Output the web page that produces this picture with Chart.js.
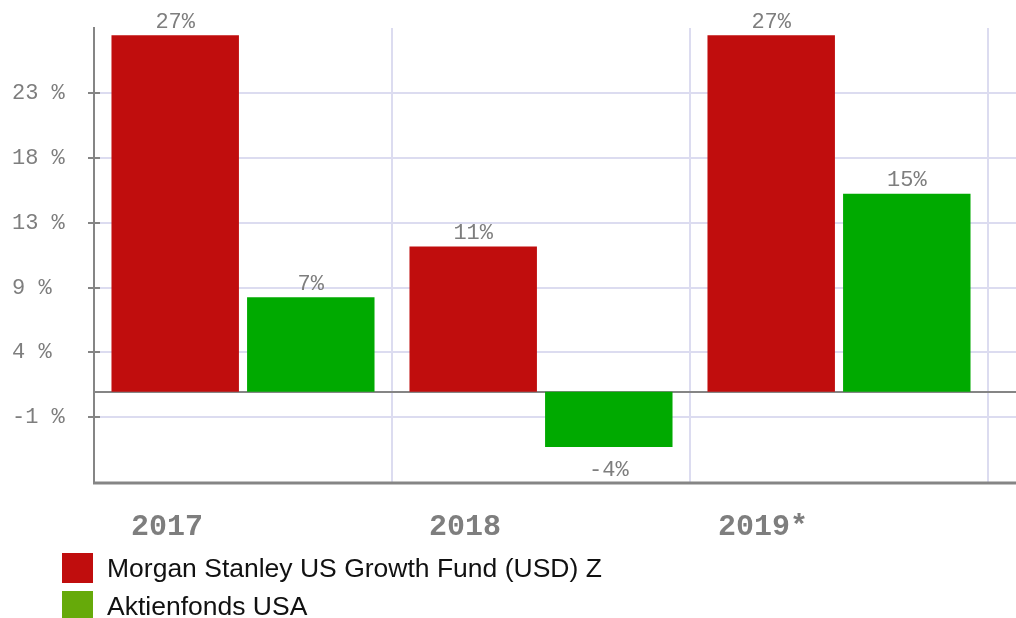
<!DOCTYPE html>
<html>
<head>
<meta charset="utf-8">
<script src="https://cdn.jsdelivr.net/npm/chart.js@4/dist/chart.umd.min.js"></script>
<style>
  html, body { margin: 0; padding: 0; background: #fff; overflow: hidden; }
  #wrap { position: relative; width: 1016px; height: 618px; }
  #legend { position: absolute; left: 62px; top: 553px; font-family: "Liberation Sans", Arial, sans-serif; font-size: 26.5px; color: #111; }
  .li { position: relative; height: 38px; }
  .sw { position: absolute; left: 0; top: 0; width: 31px; height: 30px; }
  .lt { position: absolute; left: 45px; top: 15px; transform: translateY(-50%); white-space: nowrap; line-height: 1; }
</style>
</head>
<body>
<div id="wrap">
  <canvas id="c" width="1016" height="618"></canvas>
  <div id="legend"></div>
</div>
<script>
const categories = ["2017", "2018", "2019*"];
const seriesNames = ["Morgan Stanley US Growth Fund (USD) Z", "Aktienfonds USA"];
const fundValues = [27.0, 11.0, 27.0];
const categoryAvgValues = [7.15, -4.2, 15.0];
const yTickValues = [-1.9, 3.0, 7.85, 12.8, 17.7, 22.6];
const yTickLabels = ["-1 %", "4 %", "9 %", "13 %", "18 %", "23 %"];
const yMin = -6.92, yMax = 27.55;

const barColors = ["#c00d0d", "#00aa00"];
const legendColors = ["#c00d0d", "#66aa0a"];
const GRID = "#dcdcf0", AXIS = "#858585", TEXT = "#7e7e7e";
const MONO = '"Liberation Mono", "DejaVu Sans Mono", monospace';

const extraLines = {
  id: 'extraLines',
  beforeDatasetsDraw(chart) {
    const ctx = chart.ctx, a = chart.chartArea, y = chart.scales.y, W = chart.width;
    ctx.save();
    ctx.lineWidth = 2;
    ctx.strokeStyle = GRID;
    y.ticks.forEach(t => {
      const py = Math.round(y.getPixelForValue(t.value));
      ctx.beginPath(); ctx.moveTo(a.right, py); ctx.lineTo(W, py); ctx.stroke();
    });
    // zero line
    const zy = Math.round(y.getPixelForValue(0));
    ctx.strokeStyle = AXIS;
    ctx.beginPath(); ctx.moveTo(a.left, zy); ctx.lineTo(W, zy); ctx.stroke();
    // bottom axis line
    ctx.lineWidth = 3;
    ctx.beginPath(); ctx.moveTo(a.left - 1, a.bottom); ctx.lineTo(W, a.bottom); ctx.stroke();
    // inner tick marks
    ctx.lineWidth = 2;
    y.ticks.forEach(t => {
      const py = Math.round(y.getPixelForValue(t.value));
      ctx.beginPath(); ctx.moveTo(a.left, py); ctx.lineTo(a.left + 6, py); ctx.stroke();
    });
    ctx.restore();
  },
  afterDatasetsDraw(chart) {
    const ctx = chart.ctx;
    ctx.save();
    ctx.font = '22px ' + MONO;
    ctx.fillStyle = TEXT;
    ctx.textAlign = 'center';
    chart.data.datasets.forEach((ds, di) => {
      const meta = chart.getDatasetMeta(di);
      meta.data.forEach((bar, i) => {
        const v = ds.data[i];
        const txt = Math.round(v) + '%';
        if (v >= 0) {
          ctx.textBaseline = 'bottom';
          ctx.fillText(txt, bar.x, bar.y - 2);
        } else {
          ctx.textBaseline = 'top';
          ctx.fillText(txt, bar.x, bar.y + 12);
        }
      });
    });
    ctx.restore();
  }
};

new Chart(document.getElementById('c'), {
  type: 'bar',
  data: {
    labels: categories,
    datasets: [
      { label: seriesNames[0], data: fundValues, backgroundColor: barColors[0] },
      { label: seriesNames[1], data: categoryAvgValues, backgroundColor: barColors[1] }
    ]
  },
  options: {
    responsive: false,
    animation: false,
    categoryPercentage: 0.91,
    barPercentage: 0.94,
    layout: { padding: { left: 12, top: 28, right: 28, bottom: 0 } },
    plugins: { legend: { display: false }, tooltip: { enabled: false } },
    scales: {
      x: {
        grid: { color: GRID, lineWidth: 2, drawTicks: false, offset: true },
        border: { display: false },
        ticks: { color: TEXT, font: { family: MONO, size: 30, weight: 'bold' }, padding: 26, labelOffset: -76, maxRotation: 0 },
        afterFit(s) { s.height = 135; }
      },
      y: {
        min: yMin, max: yMax,
        afterBuildTicks(s) { s.ticks = yTickValues.map(v => ({ value: v })); },
        grid: { color: GRID, lineWidth: 2, tickLength: 6, tickColor: AXIS },
        border: { color: AXIS, width: 2 },
        ticks: {
          color: TEXT, font: { family: MONO, size: 22 }, crossAlign: 'far', padding: 4,
          callback: (v, i) => yTickLabels[i]
        },
        afterFit(s) { s.width = 82; }
      }
    }
  },
  plugins: [extraLines]
});

const leg = document.getElementById('legend');
seriesNames.forEach((n, i) => {
  const d = document.createElement('div');
  d.className = 'li';
  d.innerHTML = '<div class="sw" style="background:' + legendColors[i] + '"></div><div class="lt"></div>';
  d.querySelector('.lt').textContent = n;
  leg.appendChild(d);
});
</script>
</body>
</html>
